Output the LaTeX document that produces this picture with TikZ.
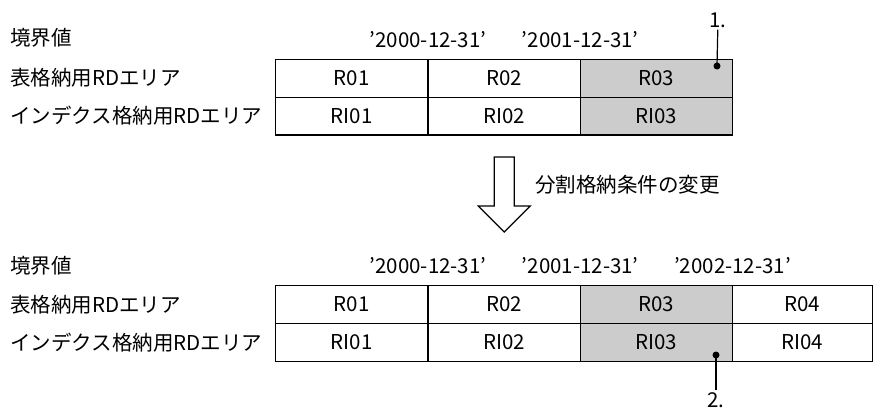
\documentclass[tikz,border=0pt]{standalone}
\usepackage{fontspec}
\setmainfont{Noto Sans CJK JP}
\usepackage{xcolor}
\usetikzlibrary{positioning}
\definecolor{shade}{gray}{0.8}

\begin{document}
\begin{tikzpicture}[x=1pt, y=-1pt, every node/.style={inner sep=0pt,
font=\fontsize{20.5}{21}\selectfont},
cell/.style={draw, line width=1.2pt, minimum width=152.3pt, minimum height=37.8pt,
outer sep=0pt},
hl/.style={cell, fill=shade},
lbl/.style={anchor=west},
dotmark/.style={circle, fill, minimum size=7pt}]
\useasboundingbox (0,0) rectangle (873,410);
% before
\node[lbl] (bound1) at (10,37.5) {境界値};
\node[lbl] (tab1) at (10,78) {表格納用RDエリア};
\node[lbl] (idx1) at (10,116) {インデクス格納用RDエリア};
\node[cell, anchor=north west] (r1) at (275.7,59.3) {R01};
\node[cell, right=0pt of r1] (r2) {R02};
\node[hl, right=0pt of r2] (r3) {R03};
\node[cell, below=0pt of r1] (ri1) {RI01};
\node[cell, below=0pt of r2] (ri2) {RI02};
\node[hl, below=0pt of r3] (ri3) {RI03};
\node (d1) at ([yshift=20pt]r1.north east) {'2000-12-31'};
\node (d2) at ([yshift=20pt]r2.north east) {'2001-12-31'};
\node[dotmark] (p1) at (717,66) {};
\node[inner sep=2pt] (n1) at (718,20) {1.};
\draw[line width=1.2pt] (p1.center) -- (n1);
% change
\coordinate (tip) at (504.3,232);
\draw[line width=1.2pt] (tip) -- ++(-26,-26) -- ++(16,0) -- ++(0,-49) -- ++(20,0)
-- ++(0,49) -- ++(16,0) -- cycle;
\node[lbl] (chg) at (535,185) {分割格納条件の変更};
% after
\node[lbl] (bound2) at (10,266) {境界値};
\node[lbl] (tab2) at (10,304.5) {表格納用RDエリア};
\node[lbl] (idx2) at (10,343) {インデクス格納用RDエリア};
\node[cell, anchor=north west] (s1) at (275.7,285.5) {R01};
\node[cell, right=0pt of s1] (s2) {R02};
\node[hl, right=0pt of s2] (s3) {R03};
\node[cell, right=0pt of s3, minimum width=139.7pt] (s4) {R04};
\node[cell, below=0pt of s1] (si1) {RI01};
\node[cell, below=0pt of s2] (si2) {RI02};
\node[hl, below=0pt of s3] (si3) {RI03};
\node[cell, below=0pt of s4, minimum width=139.7pt] (si4) {RI04};
\node (e1) at ([yshift=20pt]s1.north east) {'2000-12-31'};
\node (e2) at ([yshift=20pt]s2.north east) {'2001-12-31'};
\node (e3) at ([yshift=20pt]s3.north east) {'2002-12-31'};
\node[dotmark] (p2) at (716,355) {};
\node[inner sep=2pt] (n2) at (716,400) {2.};
\draw[line width=1.2pt] (p2.center) -- (n2);
\end{tikzpicture}
\end{document}
